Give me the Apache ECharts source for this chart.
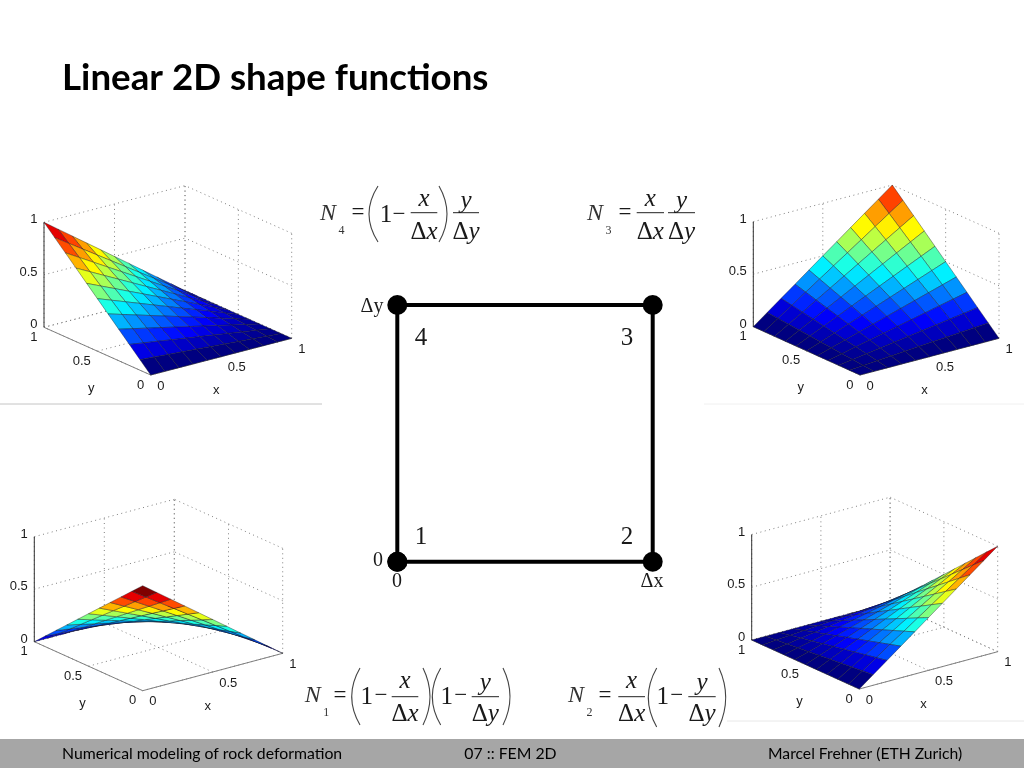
<!DOCTYPE html>
<html><head><meta charset="utf-8">
<style>html,body{margin:0;padding:0;background:#fff}#c{width:1024px;height:768px}</style>
<script src="https://cdn.jsdelivr.net/npm/echarts@6/dist/echarts.min.js"></script>
</head><body><div id="c"></div>
<script>
// rows: y = 0 .. 1, columns: x = 0 .. 1 (step 0.1)
const N1_values=[
[1,.9,.8,.7,.6,.5,.4,.3,.2,.1,0],
[.9,.81,.72,.63,.54,.45,.36,.27,.18,.09,0],
[.8,.72,.64,.56,.48,.4,.32,.24,.16,.08,0],
[.7,.63,.56,.49,.42,.35,.28,.21,.14,.07,0],
[.6,.54,.48,.42,.36,.3,.24,.18,.12,.06,0],
[.5,.45,.4,.35,.3,.25,.2,.15,.1,.05,0],
[.4,.36,.32,.28,.24,.2,.16,.12,.08,.04,0],
[.3,.27,.24,.21,.18,.15,.12,.09,.06,.03,0],
[.2,.18,.16,.14,.12,.1,.08,.06,.04,.02,0],
[.1,.09,.08,.07,.06,.05,.04,.03,.02,.01,0],
[0,0,0,0,0,0,0,0,0,0,0]];
const N2_values=[
[0,.1,.2,.3,.4,.5,.6,.7,.8,.9,1],
[0,.09,.18,.27,.36,.45,.54,.63,.72,.81,.9],
[0,.08,.16,.24,.32,.4,.48,.56,.64,.72,.8],
[0,.07,.14,.21,.28,.35,.42,.49,.56,.63,.7],
[0,.06,.12,.18,.24,.3,.36,.42,.48,.54,.6],
[0,.05,.1,.15,.2,.25,.3,.35,.4,.45,.5],
[0,.04,.08,.12,.16,.2,.24,.28,.32,.36,.4],
[0,.03,.06,.09,.12,.15,.18,.21,.24,.27,.3],
[0,.02,.04,.06,.08,.1,.12,.14,.16,.18,.2],
[0,.01,.02,.03,.04,.05,.06,.07,.08,.09,.1],
[0,0,0,0,0,0,0,0,0,0,0]];
const N3_values=[
[0,0,0,0,0,0,0,0,0,0,0],
[0,.01,.02,.03,.04,.05,.06,.07,.08,.09,.1],
[0,.02,.04,.06,.08,.1,.12,.14,.16,.18,.2],
[0,.03,.06,.09,.12,.15,.18,.21,.24,.27,.3],
[0,.04,.08,.12,.16,.2,.24,.28,.32,.36,.4],
[0,.05,.1,.15,.2,.25,.3,.35,.4,.45,.5],
[0,.06,.12,.18,.24,.3,.36,.42,.48,.54,.6],
[0,.07,.14,.21,.28,.35,.42,.49,.56,.63,.7],
[0,.08,.16,.24,.32,.4,.48,.56,.64,.72,.8],
[0,.09,.18,.27,.36,.45,.54,.63,.72,.81,.9],
[0,.1,.2,.3,.4,.5,.6,.7,.8,.9,1]];
const N4_values=[
[0,0,0,0,0,0,0,0,0,0,0],
[.1,.09,.08,.07,.06,.05,.04,.03,.02,.01,0],
[.2,.18,.16,.14,.12,.1,.08,.06,.04,.02,0],
[.3,.27,.24,.21,.18,.15,.12,.09,.06,.03,0],
[.4,.36,.32,.28,.24,.2,.16,.12,.08,.04,0],
[.5,.45,.4,.35,.3,.25,.2,.15,.1,.05,0],
[.6,.54,.48,.42,.36,.3,.24,.18,.12,.06,0],
[.7,.63,.56,.49,.42,.35,.28,.21,.14,.07,0],
[.8,.72,.64,.56,.48,.4,.32,.24,.16,.08,0],
[.9,.81,.72,.63,.54,.45,.36,.27,.18,.09,0],
[1,.9,.8,.7,.6,.5,.4,.3,.2,.1,0]];
const gridSteps=[0,.1,.2,.3,.4,.5,.6,.7,.8,.9,1];
const tickValues=[0,.5,1];
const tickLabels=['0','0.5','1'];
const squareX=[0,1,1,0,0];
const squareY=[0,0,1,1,0];

// projected corners of each plot box, in page pixels
const views=[
 {values:N4_values,front:[150.7,375],left:[44,327.3],right:[291.7,338.3],h:105},
 {values:N3_values,front:[860,375],left:[753.3,326.7],right:[999,338.3],h:105},
 {values:N1_values,front:[142.7,690.7],left:[34.3,641.7],right:[282.7,653.3],h:105},
 {values:N2_values,front:[859.3,689],left:[751.7,640],right:[997.7,651.7],h:105.5}
];
const AX='Liberation Sans',SERIF='Liberation Serif',SANS='Lato';

function jet(v){
  const c=t=>Math.round(255*Math.max(0,Math.min(1,1.5-4*Math.abs(v-t))));
  return 'rgb('+c(.75)+','+c(.5)+','+c(.25)+')';
}
const grids=[],xAxes=[],yAxes=[],series=[];
function hiddenAxis(min,max,gi){return {type:'value',min:min,max:max,show:false,gridIndex:gi};}

views.forEach((v,gi)=>{
  const backX=v.left[0]+v.right[0]-v.front[0], backY=v.left[1]+v.right[1]-v.front[1];
  const L=v.left[0],R=v.right[0],T=backY-v.h,B=v.front[1];
  grids.push({left:L,top:T,width:R-L,height:B-T,containLabel:false,show:false});
  xAxes.push(hiddenAxis(0,1,gi));yAxes.push(hiddenAxis(0,1,gi));
  const proj=(x,y,z)=>{
    const sx=v.front[0]+x*(v.right[0]-v.front[0])+y*(v.left[0]-v.front[0]);
    const sy=v.front[1]+x*(v.right[1]-v.front[1])+y*(v.left[1]-v.front[1])-z*v.h;
    return [(sx-L)/(R-L),(B-sy)/(B-T)];
  };
  // dotted box grid on the back walls and floor
  const dotted=[];
  tickValues.forEach(t=>{
    dotted.push([0,1,t,1,1,t],[1,0,t,1,1,t]);
    dotted.push([t,1,0,t,1,1],[1,t,0,1,t,1]);
    dotted.push([t,0,0,t,1,0],[0,t,0,1,t,0]);
  });
  series.push({type:'custom',xAxisIndex:gi,yAxisIndex:gi,silent:true,animation:false,clip:false,
    data:dotted,encode:{x:0,y:1},
    renderItem:(p,api)=>{
      const a=api.coord(proj(api.value(0),api.value(1),api.value(2)));
      const b=api.coord(proj(api.value(3),api.value(4),api.value(5)));
      return {type:'line',shape:{x1:a[0],y1:a[1],x2:b[0],y2:b[1]},
        style:{stroke:'#808080',lineWidth:1,lineDash:[1,3.5],fill:null}};
    }});
  // solid axes with ticks
  const solid=[[0,0,0,1,0,0,0],[0,0,0,0,1,0,0],[0,1,0,0,1,1,1]];
  series.push({type:'custom',xAxisIndex:gi,yAxisIndex:gi,silent:true,animation:false,clip:false,
    data:solid,encode:{x:0,y:1},
    renderItem:(p,api)=>{
      const a=api.coord(proj(api.value(0),api.value(1),api.value(2)));
      const b=api.coord(proj(api.value(3),api.value(4),api.value(5)));
      return {type:'line',shape:{x1:a[0],y1:a[1],x2:b[0],y2:b[1]},
        style:{stroke:api.value(6)?'#333':'#808080',lineWidth:1,fill:null}};
    }});
  // surface: painted back to front, colour from the lowest-index corner
  const cells=[];
  for(let j=9;j>=0;j--)for(let i=9;i>=0;i--){
    cells.push([gridSteps[i],gridSteps[j],gridSteps[i+1],gridSteps[j+1],
      v.values[j][i],v.values[j][i+1],v.values[j+1][i+1],v.values[j+1][i]]);
  }
  series.push({type:'custom',xAxisIndex:gi,yAxisIndex:gi,silent:true,animation:false,clip:false,
    data:cells,encode:{x:0,y:1},
    renderItem:(p,api)=>{
      const x0=api.value(0),y0=api.value(1),x1=api.value(2),y1=api.value(3);
      const pts=[proj(x0,y0,api.value(4)),proj(x1,y0,api.value(5)),proj(x1,y1,api.value(6)),proj(x0,y1,api.value(7))]
        .map(q=>api.coord(q));
      return {type:'polygon',shape:{points:pts},
        style:{fill:jet(api.value(4)),stroke:'rgba(20,20,30,0.55)',lineWidth:0.7}};
    }});
  // tick labels and axis names
  const labels=[];
  tickValues.forEach((t,k)=>{
    labels.push({value:[t,0,0],name:tickLabels[k],off:[6.5,11],al:'left'});
    labels.push({value:[0,t,0],name:tickLabels[k],off:[-6.5,10],al:'right'});
    labels.push({value:[0,1,t],name:tickLabels[k],off:[-6.5,-2.4],al:'right'});
  });
  labels.push({value:[.5,0,0],name:'x',off:[-5,34],al:'center'});
  labels.push({value:[0,.5,0],name:'y',off:[-6,37],al:'center'});
  series.push({type:'custom',xAxisIndex:gi,yAxisIndex:gi,silent:true,animation:false,clip:false,
    data:labels.map(l=>({value:l.value,name:l.name})),encode:{x:0,y:1},
    renderItem:(p,api)=>{
      const l=labels[p.dataIndex];
      const a=api.coord(proj(api.value(0),api.value(1),api.value(2)));
      return {type:'text',x:a[0]+l.off[0],y:a[1]+l.off[1],
        style:{text:l.name,fill:'#1a1a1a',font:'13px "'+AX+'"',align:l.al,verticalAlign:'middle'}};
    }});
});

// central element square
const sqIdx=views.length;
grids.push({left:397.3,top:305,width:255.4,height:256.7,show:false});
xAxes.push(hiddenAxis(0,1,sqIdx));yAxes.push(hiddenAxis(0,1,sqIdx));
series.push({type:'line',xAxisIndex:sqIdx,yAxisIndex:sqIdx,silent:true,animation:false,
  data:squareX.map((x,i)=>[x,squareY[i]]),symbol:'circle',symbolSize:20,showSymbol:true,
  itemStyle:{color:'#000'},lineStyle:{color:'#000',width:4},clip:false});

// page furniture
const g=[];
function T(x,y,text,size,opt){opt=opt||{};
  g.push({type:'text',x:x,y:y,silent:true,style:{text:text,fill:opt.fill||'#1a1a1a',
    font:(opt.italic?'italic ':'')+(opt.bold?'bold ':'')+size+'px "'+(opt.family||SERIF)+'"',
    align:opt.align||'center',verticalAlign:'middle'}});}
function D(x,y,v,size){ // upright delta + italic variable
  g.push({type:'text',x:x,y:y,silent:true,style:{text:'{d|Δ}{v|'+v+'}',align:'center',verticalAlign:'middle',
    rich:{d:{font:size+'px "'+SERIF+'"',fill:'#1a1a1a'},v:{font:'italic '+size+'px "'+SERIF+'"',fill:'#1a1a1a'}}}});}
function Hline(x1,x2,y){g.push({type:'line',silent:true,shape:{x1:x1,y1:y,x2:x2,y2:y},style:{stroke:'#222',lineWidth:1}});}
function Paren(xEnd,xMid,y1,y2){g.push({type:'bezierCurve',silent:true,
  shape:{x1:xEnd,y1:y1,x2:xEnd,y2:y2,cpx1:2*xMid-xEnd,cpy1:(y1+y2)/2},style:{stroke:'#444',lineWidth:1.1,fill:null}});}
function Frac(x1,x2,yLine,top,bottom,dv){
  Hline(x1,x2,yLine);
  T((x1+x2)/2,yLine+top.dy,top.t,25,{italic:true});
  D((x1+x2)/2,yLine+bottom,dv,25);
}
function N(x,y,sub){T(x,y,'N',24,{italic:true,fill:'#333'});T(x+13.5,y+17,sub,12,{fill:'#333'});}

g.push({type:'rect',silent:true,shape:{x:0,y:739,width:1024,height:29},style:{fill:'#a6a6a6'}});
T(62,754,'Numerical modeling of rock deformation',15.8,{family:SANS,align:'left',fill:'#000'});
T(510.5,754,'07 :: FEM 2D',15.8,{family:SANS,fill:'#000'});
T(768,754,'Marcel Frehner (ETH Zurich)',15.7,{family:SANS,align:'left',fill:'#000'});
g.push({type:'line',silent:true,shape:{x1:0,y1:404,x2:322,y2:404},style:{stroke:'#c4c4c4',lineWidth:1}});
g.push({type:'line',silent:true,shape:{x1:704,y1:404,x2:1024,y2:404},style:{stroke:'#f0f0f0',lineWidth:1}});
g.push({type:'line',silent:true,shape:{x1:727,y1:721,x2:1024,y2:721},style:{stroke:'#e8e8e8',lineWidth:1}});

// N4
N(328,214,'4');T(358,213,'=',23);Paren(378,369,186,242);T(386,215,'1',25);T(399,215,'−',23);
Frac(410.7,437.3,212.7,{t:'x',dy:-13},20,'x');Paren(439,447,186,242);
Frac(453,479,212.7,{t:'y',dy:-11},20,'y');
// N3
N(595,214,'3');T(625,213,'=',23);
Frac(636.7,664,212.7,{t:'x',dy:-13},20,'x');Frac(668,695,212.7,{t:'y',dy:-11},20,'y');
// N1
N(312.7,696,'1');T(340,696,'=',23);Paren(360,351.7,668,725);T(366.7,697,'1',25);T(381,696,'−',23);
Frac(391.7,418.3,696.7,{t:'x',dy:-15},18,'x');Paren(423,430,668,725);
Paren(440.7,432.3,668,725);T(446.7,697,'1',25);T(460.7,696,'−',23);
Frac(471.7,499,696.7,{t:'y',dy:-13},18,'y');Paren(503,510,668,725);
// N2
N(576,696,'2');T(605,696,'=',23);
Frac(618.3,645,696.7,{t:'x',dy:-15},18,'x');Paren(656.7,648.3,668,727);T(662.7,697,'1',25);T(676.7,696,'−',23);
Frac(688.3,715.7,696.7,{t:'y',dy:-13},18,'y');Paren(719,725.7,668,727);
// square labels
T(372,307,'Δy',20);T(421,338,'4',25);T(627,338,'3',25);T(421,537,'1',25);T(627,537,'2',25);
T(378,561,'0',20);T(397,582,'0',20);T(652,582,'Δx',20);

const chart=echarts.init(document.getElementById('c'),null,{width:1024,height:768});
chart.setOption({
  animation:false,backgroundColor:'#fff',
  title:{text:'Linear 2D shape functions',left:62,top:60,padding:0,
    textStyle:{fontFamily:SANS,fontWeight:'bold',fontSize:36.7,color:'#000'}},
  grid:grids,xAxis:xAxes,yAxis:yAxes,series:series,graphic:{elements:g}
});
</script></body></html>
